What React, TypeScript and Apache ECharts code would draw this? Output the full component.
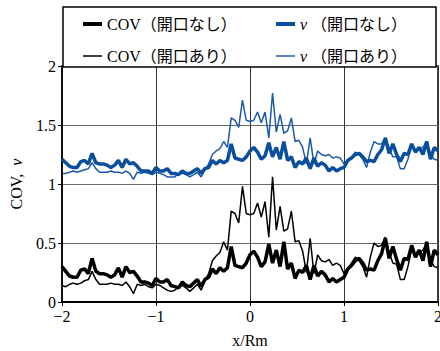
import React, { useEffect, useRef } from "react";
import * as echarts from "echarts";

const xs: number[] = Array.from({ length: 101 }, (_, i) => Math.round((-2 + 0.04 * i) * 100) / 100);

const covNone: number[] = [
  0.30, 0.26, 0.22, 0.21, 0.21, 0.27, 0.28, 0.24, 0.37, 0.26,
  0.24, 0.24, 0.23, 0.21, 0.23, 0.29, 0.21, 0.30, 0.25, 0.26,
  0.22, 0.17, 0.17, 0.16, 0.14, 0.20, 0.17, 0.17, 0.19, 0.14,
  0.13, 0.12, 0.17, 0.14, 0.13, 0.16, 0.19, 0.13, 0.19, 0.21,
  0.28, 0.24, 0.29, 0.26, 0.29, 0.47, 0.31, 0.30, 0.29, 0.33,
  0.40, 0.43, 0.38, 0.30, 0.34, 0.49, 0.33, 0.44, 0.30, 0.51,
  0.28, 0.33, 0.20, 0.27, 0.25, 0.31, 0.19, 0.31, 0.22, 0.26,
  0.23, 0.17, 0.20, 0.17, 0.19, 0.21, 0.28, 0.31, 0.35, 0.37,
  0.33, 0.27, 0.28, 0.27, 0.35, 0.41, 0.54, 0.37, 0.47, 0.36,
  0.27, 0.37, 0.36, 0.48, 0.38, 0.44, 0.35, 0.51, 0.30, 0.44,
  0.40,
];

const covOpen: number[] = [
  0.14, 0.13, 0.15, 0.16, 0.15, 0.16, 0.18, 0.19, 0.26, 0.19,
  0.15, 0.15, 0.15, 0.16, 0.15, 0.15, 0.14, 0.17, 0.13, 0.07,
  0.15, 0.14, 0.15, 0.13, 0.12, 0.15, 0.14, 0.12, 0.10, 0.09,
  0.10, 0.13, 0.14, 0.12, 0.09, 0.12, 0.15, 0.10, 0.18, 0.24,
  0.35, 0.39, 0.42, 0.51, 0.44, 0.77, 0.75, 0.67, 0.98, 0.75,
  0.74, 0.75, 0.84, 0.72, 0.85, 0.55, 1.06, 0.61, 0.81, 0.60,
  0.62, 0.77, 0.51, 0.52, 0.43, 0.25, 0.54, 0.24, 0.40, 0.35,
  0.34, 0.36, 0.31, 0.33, 0.31, 0.24, 0.28, 0.33, 0.38, 0.35,
  0.30, 0.21, 0.38, 0.50, 0.47, 0.48, 0.55, 0.42, 0.33, 0.32,
  0.19, 0.19, 0.30, 0.45, 0.39, 0.42, 0.44, 0.50, 0.36, 0.30,
  0.29,
];

const nuNone: number[] = [
  1.21, 1.18, 1.15, 1.14, 1.14, 1.19, 1.20, 1.17, 1.26, 1.18,
  1.17, 1.17, 1.16, 1.14, 1.16, 1.20, 1.14, 1.21, 1.17, 1.18,
  1.15, 1.11, 1.11, 1.11, 1.09, 1.14, 1.11, 1.11, 1.13, 1.09,
  1.09, 1.08, 1.11, 1.09, 1.09, 1.11, 1.13, 1.09, 1.13, 1.14,
  1.20, 1.17, 1.20, 1.18, 1.20, 1.34, 1.22, 1.21, 1.20, 1.23,
  1.28, 1.31, 1.27, 1.21, 1.24, 1.35, 1.23, 1.31, 1.21, 1.36,
  1.20, 1.23, 1.14, 1.19, 1.17, 1.22, 1.13, 1.22, 1.15, 1.18,
  1.16, 1.11, 1.14, 1.11, 1.13, 1.14, 1.20, 1.22, 1.25, 1.26,
  1.23, 1.19, 1.20, 1.19, 1.25, 1.29, 1.39, 1.26, 1.34, 1.25,
  1.19, 1.26, 1.25, 1.34, 1.27, 1.31, 1.25, 1.36, 1.21, 1.31,
  1.28,
];

const nuOpen: number[] = [
  1.09, 1.09, 1.10, 1.11, 1.10, 1.11, 1.12, 1.13, 1.18, 1.13,
  1.10, 1.10, 1.10, 1.11, 1.10, 1.10, 1.09, 1.11, 1.09, 1.04,
  1.10, 1.09, 1.10, 1.09, 1.08, 1.10, 1.09, 1.08, 1.06, 1.06,
  1.06, 1.09, 1.09, 1.08, 1.06, 1.08, 1.10, 1.06, 1.12, 1.17,
  1.25, 1.28, 1.30, 1.36, 1.31, 1.56, 1.54, 1.48, 1.71, 1.54,
  1.53, 1.54, 1.61, 1.52, 1.61, 1.39, 1.77, 1.44, 1.59, 1.43,
  1.45, 1.56, 1.36, 1.37, 1.31, 1.17, 1.39, 1.17, 1.28, 1.25,
  1.24, 1.25, 1.22, 1.23, 1.22, 1.17, 1.20, 1.23, 1.27, 1.25,
  1.21, 1.14, 1.27, 1.36, 1.34, 1.34, 1.39, 1.30, 1.23, 1.23,
  1.13, 1.13, 1.21, 1.32, 1.28, 1.30, 1.31, 1.36, 1.25, 1.21,
  1.20,
];

const seriesNames = ["COV（開口なし）", "COV（開口あり）", "ν （開口なし）", "ν （開口あり）"];
const xTicks = [-2, -1, 0, 1, 2];

const FONT = "'Liberation Serif', 'DejaVu Serif', 'Noto Sans CJK JP', serif";
const BLUE = "#0a4f9e";
const BLUE_THIN = "#1a5aab";

function pairs(ys: number[]) {
  return ys.map((y, i) => [xs[i], y]);
}

const rich = {
  it: { fontStyle: "italic", fontSize: 16, fontFamily: FONT, color: "#000" },
};

function fmtName(name: string) {
  return name.startsWith("ν") ? "{it|ν}" + name.slice(1) : name;
}

export default function App() {
  const ref = useRef<HTMLDivElement>(null);
  useEffect(() => {
    document.body.style.margin = "0";
    if (!ref.current) return;
    const chart = echarts.init(ref.current, undefined, { renderer: "svg" });
    const legendBase = (name: string, left: number, top: number, h: number) => ({
      data: [{ name }],
      left,
      top,
      icon: "rect",
      itemWidth: 19,
      itemHeight: h,
      itemGap: 0,
      selectedMode: false,
      formatter: fmtName,
      textStyle: { fontSize: 16, fontFamily: FONT, color: "#000", rich },
      padding: 0,
      z: 10,
    });
    chart.setOption({
      animation: false,
      backgroundColor: "#fff",
      grid: {
        left: 62,
        right: 2,
        top: 66,
        bottom: 49,
        show: true,
        borderColor: "#000",
        borderWidth: 1.5,
        backgroundColor: "transparent",
        outerBoundsMode: "none",
        containLabel: false,
      },
      graphic: [
        {
          type: "rect",
          shape: { x: 63, y: 7, width: 373, height: 60 },
          style: { fill: "#fff", stroke: "#000", lineWidth: 1.5 },
          z: 5,
          silent: true,
        },
      ],
      legend: [
        legendBase(seriesNames[0], 83, 16, 4),
        legendBase(seriesNames[2], 276, 16, 4),
        legendBase(seriesNames[1], 83, 48, 1.5),
        legendBase(seriesNames[3], 276, 48, 1.5),
      ],
      xAxis: {
        type: "value",
        min: -2,
        max: 2,
        interval: 1,
        name: "x/Rm",
        nameLocation: "middle",
        nameGap: 30,
        nameTextStyle: { fontSize: 16, fontFamily: FONT, color: "#000", fontWeight: "normal" },
        axisLine: { show: true, onZero: false, lineStyle: { color: "#000", width: 2 } },
        axisTick: { show: true, inside: false, length: 4, lineStyle: { color: "#000" } },
        axisLabel: {
          fontSize: 16,
          fontFamily: FONT,
          color: "#000",
          margin: 6,
          customValues: xTicks,
          formatter: (v: number) => String(v).replace("-", "−"),
        },
        splitLine: { show: true, lineStyle: { color: "#333", width: 1 } },
      },
      yAxis: {
        type: "value",
        min: 0,
        max: 2,
        interval: 0.5,
        name: "COV,  {it|ν}",
        nameLocation: "middle",
        nameGap: 38,
        nameTextStyle: { fontSize: 16, fontFamily: FONT, color: "#000", fontWeight: "normal", rich },
        axisLine: { show: true, onZero: false, lineStyle: { color: "#000", width: 1.5 } },
        axisTick: { show: true, inside: false, length: 4, lineStyle: { color: "#000" } },
        axisLabel: {
          fontSize: 16,
          fontFamily: FONT,
          color: "#000",
          margin: 6,
          formatter: (v: number) => String(v),
        },
        splitLine: { show: true, lineStyle: { color: "#666", width: 1.2 } },
      },
      series: [
        {
          name: seriesNames[1],
          type: "line",
          data: pairs(covOpen),
          showSymbol: false,
          symbol: "none",
          color: "#000",
          lineStyle: { color: "#000", width: 1.5 },
          z: 2,
        },
        {
          name: seriesNames[3],
          type: "line",
          data: pairs(nuOpen),
          showSymbol: false,
          symbol: "none",
          color: BLUE_THIN,
          lineStyle: { color: BLUE_THIN, width: 1.5 },
          z: 2,
        },
        {
          name: seriesNames[0],
          type: "line",
          data: pairs(covNone),
          showSymbol: false,
          symbol: "none",
          color: "#000",
          lineStyle: { color: "#000", width: 3.5 },
          z: 3,
        },
        {
          name: seriesNames[2],
          type: "line",
          data: pairs(nuNone),
          showSymbol: false,
          symbol: "none",
          color: BLUE,
          lineStyle: { color: BLUE, width: 3.5 },
          z: 3,
        },
      ],
    });
    return () => chart.dispose();
  }, []);
  return <div ref={ref} style={{ width: 440, height: 351 }} />;
}
